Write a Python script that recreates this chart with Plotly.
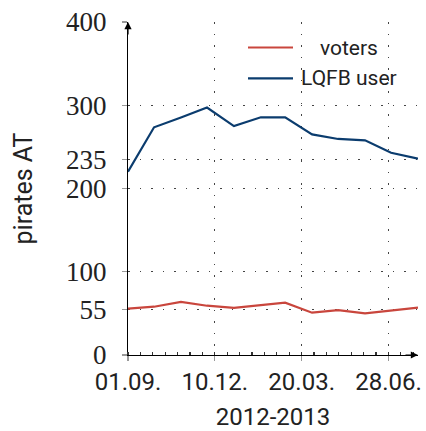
import plotly.graph_objects as go

dates = ["2012-09-01", "2012-10-01", "2012-11-01", "2012-12-01", "2013-01-01", "2013-02-01",
         "2013-03-01", "2013-04-01", "2013-05-01", "2013-06-01", "2013-07-01", "2013-08-01"]
voters = [55.6, 58, 63.7, 59.2, 56.5, 60, 62.8, 50.8, 54, 50, 52.9, 56.8]
lqfb_users = [220.2, 273.5, 285.3, 297.3, 275, 285.5, 285.5, 265, 259.5, 257.8, 243, 235.8]
y_ticks = [0, 55, 100, 200, 235, 300, 400]
series_names = ["voters", "LQFB user"]

RED = "#c9463d"
BLUE = "#0b3c6e"
W, H = 426, 431
L, R, T, B = 128, 8, 22, 76

fig = go.Figure()
fig.add_trace(go.Scatter(x=dates, y=voters, mode="lines", name=series_names[0],
                         line=dict(color=RED, width=2.2), showlegend=False))
fig.add_trace(go.Scatter(x=dates, y=lqfb_users, mode="lines", name=series_names[1],
                         line=dict(color=BLUE, width=2.2), showlegend=False))

DAY = 86400000
fig.update_xaxes(
    type="date", range=["2012-09-01", "2013-08-01"], automargin=False,
    tick0="2012-09-01", dtick=100 * DAY, tickformat="%d.%m.",
    showline=True, linecolor="black", linewidth=1.2,
    ticks="outside", ticklen=5, tickcolor="#999", tickwidth=1.2,
    showgrid=True, gridcolor="#444", gridwidth=1.2, griddash="1.5px,10px",
    zeroline=False,
    tickfont=dict(family="Roboto", size=24, color="#222"),
    title=dict(text="2012-2013", font=dict(family="Roboto", size=24, color="#222"), standoff=15),
    minor=dict(tick0="2012-09-01", dtick=100 / 7 * DAY, ticks="inside", ticklen=3,
               tickcolor="#333", showgrid=False),
)
fig.update_yaxes(
    range=[0, 400], tickmode="array", tickvals=y_ticks, automargin=False,
    showline=True, linecolor="black", linewidth=1.2,
    ticks="outside", ticklen=5, tickcolor="#999", tickwidth=1.2,
    ticklabelstandoff=10,
    showgrid=True, gridcolor="#444", gridwidth=1.2, griddash="1.5px,10px",
    zeroline=False,
    tickfont=dict(family="Liberation Serif", size=27, color="#222"),
    title=dict(text="pirates AT", font=dict(family="Roboto", size=25, color="#222"), standoff=26),
)

# axis arrows
fig.add_annotation(x=0, y=1, xref="paper", yref="paper", ax=0, ay=14, text="",
                   showarrow=True, arrowhead=2, arrowsize=1.2, arrowwidth=1.2, arrowcolor="black")
fig.add_annotation(x=1, y=0, xref="paper", yref="paper", ax=-14, ay=0, text="",
                   showarrow=True, arrowhead=2, arrowsize=1.2, arrowwidth=1.2, arrowcolor="black")

# legend drawn manually (centered text like pgfplots)
pw = W - L - R
ph = H - T - B
def px(x):
    return (x - L) / pw
def py(y):
    return (H - B - y) / ph

for name, color, yy in [(series_names[0], RED, 47.5), (series_names[1], BLUE, 78.3)]:
    fig.add_shape(type="line", xref="paper", yref="paper", x0=px(248), x1=px(293),
                  y0=py(yy), y1=py(yy), line=dict(color=color, width=2.2))
    fig.add_annotation(x=px(348.5), y=py(yy), xref="paper", yref="paper", text=name,
                       showarrow=False, xanchor="center", yanchor="middle",
                       font=dict(family="Roboto", size=21, color="#222"))

fig.update_layout(
    width=W, height=H, margin=dict(l=L, r=R, t=T, b=B),
    plot_bgcolor="white", paper_bgcolor="white", hovermode=False,
)
fig.write_html("out.html", config={"displayModeBar": False, "staticPlot": True},
               post_script="document.body.style.margin='0';document.body.style.overflow='hidden';")
